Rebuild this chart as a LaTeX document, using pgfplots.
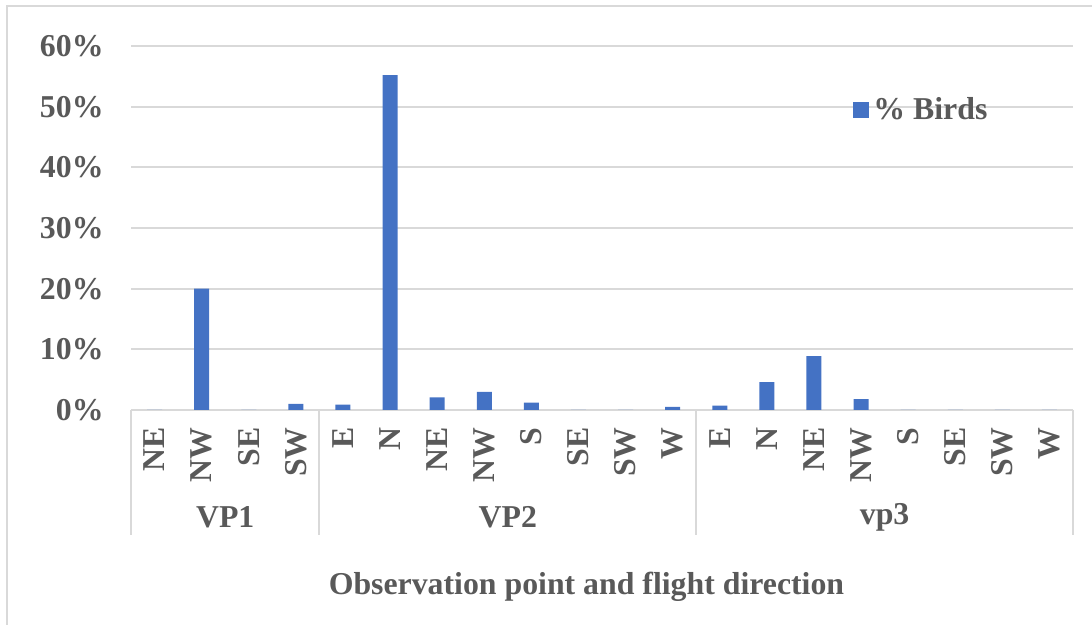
\documentclass[border=0pt]{standalone}
\usepackage{pgfplots}
\pgfplotsset{compat=1.18}
\usepackage{fontspec}
\setmainfont{Liberation Serif}
\definecolor{barblue}{HTML}{4472C4}
\definecolor{gridgray}{HTML}{D9D9D9}
\definecolor{txtgray}{HTML}{595959}
\newcommand{\chartfont}{\fontsize{15.9pt}{19pt}\selectfont\bfseries}
\begin{document}
\begin{tikzpicture}[font=\chartfont, text=txtgray]
\useasboundingbox (0,0) rectangle (546pt,312.5pt);
% chart frame
\draw[gridgray, line width=1pt] (3.7pt,0) -- (3.7pt,309.5pt) -- (546pt,309.5pt);
\begin{axis}[
  at={(65.5pt,107.5pt)}, anchor=south west,
  scale only axis, width=471pt, height=182pt,
  xmin=-0.5, xmax=19.5, ymin=0, ymax=60,
  axis lines=left,
  y axis line style={draw=none},
  x axis line style={gridgray, line width=1pt, -},
  ytick={0,10,...,60},
  yticklabel={\pgfmathprintnumber{\tick}\%},
  ymajorgrids, grid style={gridgray, line width=1pt},
  major tick length=0pt,
  xtick={0,...,19},
  xticklabels={NE,NW,SE,SW,E,N,NE,NW,S,SE,SW,W,E,N,NE,NW,S,SE,SW,W},
  tick label style={font=\chartfont, text=txtgray},
  xticklabel style={rotate=90, anchor=east, inner sep=0pt},
  xticklabel shift=8.5pt,
  yticklabel style={anchor=east, inner sep=0pt},
  yticklabel shift=13.5pt,
  /pgf/number format/assume math mode=true,
  clip=false,
  legend style={draw=none, fill=none, inner sep=0pt,
    at={(rel axis cs:0.7665,0.8255)}, anchor=west,
    font=\chartfont, text=txtgray},
]
\addplot[ybar, bar width=7.5pt, bar shift=0pt, fill=barblue, draw=none,
  legend image code/.code={\fill[barblue] (0pt,-4pt) rectangle (8pt,4pt);}]
  coordinates {
  % VP1: NE NW SE SW
  (0,0) (1,20.0) (2,0) (3,1.0)
  % VP2: E N NE NW S SE SW W
  (4,0.9) (5,55.2) (6,2.1) (7,3.0) (8,1.2) (9,0) (10,0) (11,0.5)
  % vp3: E N NE NW S SE SW W
  (12,0.7) (13,4.6) (14,8.9) (15,1.8) (16,0) (17,0) (18,0) (19,0)
  };
\addlegendentry{\% Birds}
% group separators below the category axis
\draw[gridgray, line width=1pt] (axis cs:-0.5,0) -- ++(0pt,-62.5pt);
\draw[gridgray, line width=1pt] (axis cs:3.5,0) -- ++(0pt,-62.5pt);
\draw[gridgray, line width=1pt] (axis cs:11.5,0) -- ++(0pt,-62.5pt);
\draw[gridgray, line width=1pt] (axis cs:19.5,0) -- ++(0pt,-62.5pt);
\node at (axis cs:1.5,0) [yshift=-53.5pt] {VP1};
\node at (axis cs:7.5,0) [yshift=-53.5pt] {VP2};
\node at (axis cs:15.5,0) [yshift=-53.5pt] {vp3};
\node at (rel axis cs:0.4835,0) [yshift=-88.5pt] {Observation point and flight direction};
\end{axis}
\end{tikzpicture}
\end{document}
